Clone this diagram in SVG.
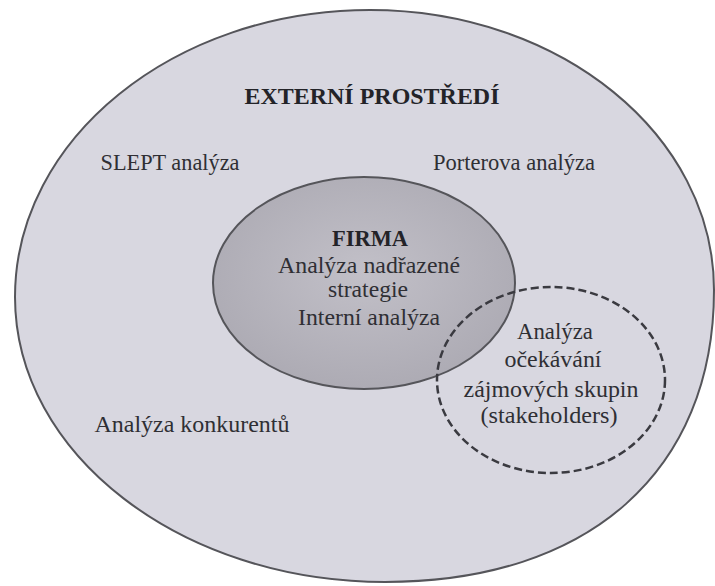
<svg xmlns="http://www.w3.org/2000/svg" width="715" height="586" viewBox="0 0 715 586">
  <style>
    .lbl { font-family: "Liberation Serif", "Times New Roman", serif; font-size: 23px; fill: #2f2f34; text-anchor: middle; }
    .hd { font-weight: bold; fill: #232328; }
    .edge { stroke: #55555a; stroke-width: 2; }
  </style>
  <defs>
    <radialGradient id="firmaFill" cx="0.5" cy="0.45" r="0.6">
      <stop offset="0" stop-color="#c2c0c8"/>
      <stop offset="1" stop-color="#aba9b2"/>
    </radialGradient>
  </defs>
  <rect width="715" height="586" fill="#ffffff"/>

  <!-- External environment -->
  <g id="external">
    <path class="edge" fill="#d8d7e0"
          d="M 370 10 C 560 10 714 135 714 290 C 714 471 589 582 385 582 C 181 582 15 454 15 297 C 15 139 174 10 370 10 Z"/>
    <text class="lbl hd" x="372" y="104" textLength="255" lengthAdjust="spacingAndGlyphs">EXTERNÍ PROSTŘEDÍ</text>
    <text class="lbl" x="170" y="170" textLength="139" lengthAdjust="spacingAndGlyphs">SLEPT analýza</text>
    <text class="lbl" x="514" y="170" textLength="162" lengthAdjust="spacingAndGlyphs">Porterova analýza</text>
    <text class="lbl" x="192" y="432" textLength="195" lengthAdjust="spacingAndGlyphs">Analýza konkurentů</text>
  </g>

  <!-- Firm -->
  <g id="firma">
    <ellipse class="edge" cx="364" cy="283" rx="151" ry="106" fill="url(#firmaFill)"/>
    <text class="lbl hd" x="370" y="246" textLength="76" lengthAdjust="spacingAndGlyphs">FIRMA</text>
    <text class="lbl" x="369" y="273" textLength="182" lengthAdjust="spacingAndGlyphs">Analýza nadřazené</text>
    <text class="lbl" x="368" y="297" textLength="80" lengthAdjust="spacingAndGlyphs">strategie</text>
    <text class="lbl" x="369" y="325" textLength="142" lengthAdjust="spacingAndGlyphs">Interní analýza</text>
  </g>

  <!-- Stakeholder expectations -->
  <g id="stakeholders">
    <ellipse cx="551" cy="380" rx="114" ry="93" fill="none" stroke="#3a3a40" stroke-width="2.5" stroke-dasharray="8 4"/>
    <text class="lbl" x="555" y="339" textLength="76" lengthAdjust="spacingAndGlyphs">Analýza</text>
    <text class="lbl" x="553" y="367" textLength="97" lengthAdjust="spacingAndGlyphs">očekávání</text>
    <text class="lbl" x="551" y="397" textLength="175" lengthAdjust="spacingAndGlyphs">zájmových skupin</text>
    <text class="lbl" x="549" y="423" textLength="137" lengthAdjust="spacingAndGlyphs">(stakeholders)</text>
  </g>

  <g id="connectors"/>
</svg>
